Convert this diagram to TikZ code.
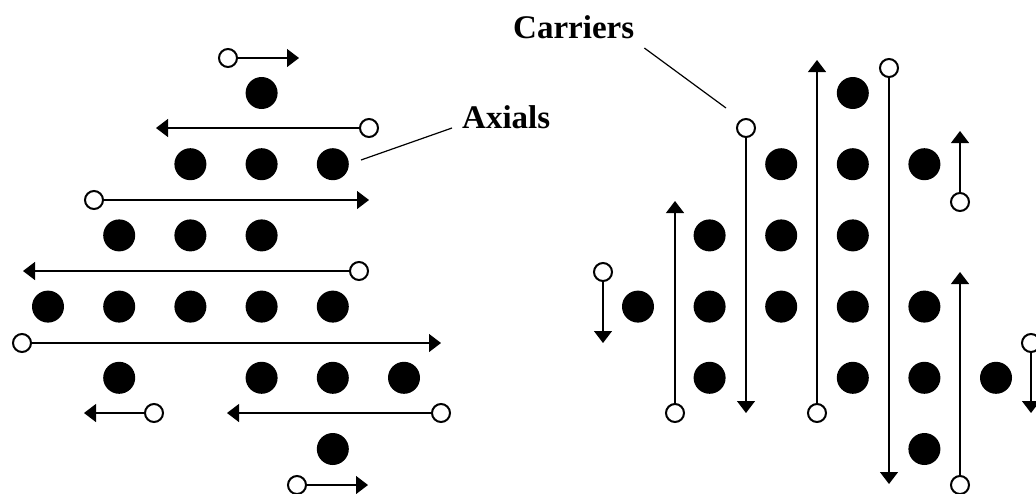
\documentclass[tikz,border=0pt]{standalone}
\usepackage{fontspec}
\setmainfont{Liberation Serif}
\usetikzlibrary{arrows.meta}
\begin{document}
\begin{tikzpicture}[x=1pt,y=-1pt,
  dot/.style={circle,fill=black,minimum size=32pt,inner sep=0pt},
  ring/.style={circle,draw=black,line width=2pt,fill=white,minimum size=18pt,inner sep=0pt},
  conn/.style={line width=1.2pt,-{Triangle[length=12pt,width=18pt]}},
  leader/.style={line width=1.2pt},
  tag/.style={font=\bfseries\fontsize{33}{40}\selectfont,inner sep=0pt,anchor=base west}]
\useasboundingbox (0,0) rectangle (1036,493);
\clip (0,0) rectangle (1036,493);

% ---------- axial bundle (left) ----------
\foreach \c/\r [count=\i] in {3/0, 2/1,3/1,4/1, 1/2,2/2,3/2, 0/3,1/3,2/3,3/3,4/3, 1/4,3/4,4/4,5/4, 4/5}
  \node[dot] (L\i) at ({48+71.2*\c},{93+71.2*\r}) {};

% axial rings with their travel directions
\foreach \rx/\ry/\tx [count=\i] in {228/58/299, 369/128/156, 94/200/369, 359/271/23, 22/343/441, 154/413/84, 441/413/227, 297/485/368} {
  \node[ring] (la\i) at (\rx,\ry) {};
  \coordinate (lt\i) at (\tx,\ry);
  \draw[conn] (la\i) -- (lt\i);
}

% ---------- carrier bundle (right) ----------
\foreach \c/\r [count=\i] in {0/3, 1/2,1/3,1/4, 2/1,2/2,2/3, 3/0,3/1,3/2,3/3,3/4, 4/1,4/3,4/4,4/5, 5/4}
  \node[dot] (R\i) at ({638+71.6*\c},{93+71.2*\r}) {};

% carrier rings with their travel directions
\foreach \rx/\ry/\ty [count=\i] in {603/272/343, 675/413/201, 746/128/413, 817/413/60, 889/68/484, 960/202/131, 960/485/272, 1031/343/413} {
  \node[ring] (rc\i) at (\rx,\ry) {};
  \coordinate (rt\i) at (\rx,\ty);
  \draw[conn] (rc\i) -- (rt\i);
}

% ---------- labels ----------
\node[tag] (axials) at (462,128) {Axials};
\coordinate (axend) at (361,160);
\draw[leader] ([xshift=-10pt,yshift=0pt]axials.base west) -- (axend);

\node[tag] (carriers) at (513,38) {Carriers};
\coordinate (caend) at (726,108);
\draw[leader] ([xshift=10pt,yshift=-10pt]carriers.base east) -- (caend);
\end{tikzpicture}
\end{document}
